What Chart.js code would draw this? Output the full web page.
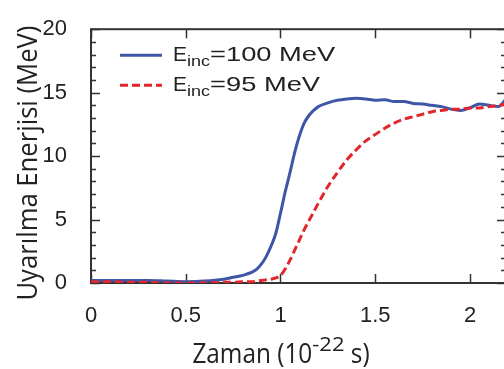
<!DOCTYPE html>
<html>
<head>
<meta charset="utf-8">
<script src="https://cdn.jsdelivr.net/npm/chart.js@4.4.1/dist/chart.umd.min.js"></script>
<style>
html, body { margin: 0; padding: 0; background: #fff; overflow: hidden; }
#wrap { width: 504px; height: 369px; overflow: hidden; }
canvas { display: block; }
</style>
</head>
<body>
<div id="wrap"><canvas id="chart" width="512" height="369"></canvas></div>
<script>
"use strict";

// time, in units of 1e-22 s
var zaman = [0, 0.1, 0.2, 0.3, 0.4, 0.5, 0.6, 0.7, 0.75, 0.8, 0.85, 0.875, 0.9, 0.925, 0.95, 0.975,
             1.0, 1.025, 1.05, 1.075, 1.1, 1.125, 1.15, 1.175, 1.2, 1.25, 1.3, 1.35, 1.4, 1.45,
             1.5, 1.55, 1.6, 1.65, 1.7, 1.75, 1.8, 1.85, 1.9, 1.95, 2.0, 2.05, 2.1, 2.15, 2.19];

// excitation energy (MeV) for the two beam energies
var e100 = [0.2, 0.2, 0.2, 0.2, 0.15, 0.1, 0.15, 0.3, 0.45, 0.6, 0.85, 1.1, 1.5, 2.1, 2.9, 3.9,
            5.5, 7.2, 8.7, 10.3, 11.6, 12.6, 13.2, 13.6, 13.9, 14.2, 14.4, 14.5, 14.55, 14.5,
            14.4, 14.45, 14.3, 14.3, 14.15, 14.1, 14.0, 13.9, 13.7, 13.6, 13.8, 14.1, 14.0, 13.9, 14.5];
var e95 = [0.1, 0.1, 0.05, 0.05, 0.0, 0.0, 0.0, 0.05, 0.05, 0.1, 0.1, 0.15, 0.2, 0.25, 0.3, 0.4,
           0.6, 1.1, 1.8, 2.6, 3.4, 4.2, 4.9, 5.6, 6.3, 7.6, 8.7, 9.7, 10.5, 11.2,
           11.7, 12.2, 12.6, 12.9, 13.1, 13.3, 13.5, 13.6, 13.7, 13.7, 13.8, 13.8, 13.9, 14.0, 14.1];

var beamEnergies = [100, 95];
var xTickValues = [0, 0.5, 1, 1.5, 2];
var yTickValues = [0, 5, 10, 15, 20];

var INK = "#222";
var TICK_FONT = { family: "'Liberation Sans', Arial, sans-serif", size: 22 };
var TITLE_FAMILY = "'Open Sans', sans-serif";
var LEGEND_FAMILY = "'Liberation Sans', Arial, sans-serif";

function toPoints(xs, ys) {
    return xs.map(function(x, i) { return { x: x, y: ys[i] }; });
}

function fixedTicks(values) {
    return function(scale) {
        scale.ticks = values.map(function(v) { return { value: v }; });
    };
}

function plainLabel(v) {
    return String(v);
}

// text in pieces (sub/superscripts), each with its own size, shift and horizontal stretch
function drawRich(ctx, parts, x, baseY, align) {
    var total = 0;
    parts.forEach(function(p) {
        ctx.font = p.font;
        p.w = ctx.measureText(p.text).width * (p.sx || 1);
        total += p.w;
    });
    if (align === "center")
        x -= total / 2;
    ctx.textAlign = "left";
    ctx.textBaseline = "alphabetic";
    parts.forEach(function(p) {
        ctx.save();
        ctx.font = p.font;
        ctx.translate(x, baseY + (p.dy || 0));
        ctx.scale(p.sx || 1, 1);
        ctx.fillText(p.text, 0, 0);
        ctx.restore();
        x += p.w;
    });
}

// box round the plot with inward ticks on all four sides
var framePlugin = {
    id: "frame",
    beforeDatasetsDraw: function(chart) {
        var ctx = chart.ctx, a = chart.chartArea;
        var xs = chart.scales.x, ys = chart.scales.y;
        ctx.save();
        ctx.strokeStyle = "#333";
        ctx.lineWidth = 1.5;
        for (var v = 0; v <= 20; v++) {
            var py = Math.round(ys.getPixelForValue(v)) + 0.5;
            var len = (v % 5 === 0) ? 9 : 5;
            ctx.beginPath();
            ctx.moveTo(a.left, py); ctx.lineTo(a.left + len, py);
            ctx.moveTo(a.right, py); ctx.lineTo(a.right - len, py);
            ctx.stroke();
        }
        xTickValues.forEach(function(t) {
            var px = Math.round(xs.getPixelForValue(t)) + 0.5;
            ctx.beginPath();
            ctx.moveTo(px, a.bottom); ctx.lineTo(px, a.bottom - 9);
            ctx.moveTo(px, a.top); ctx.lineTo(px, a.top + 9);
            ctx.stroke();
        });
        ctx.lineWidth = 2;
        ctx.strokeRect(a.left, a.top, a.right - a.left, a.bottom - a.top);
        ctx.restore();
    },
    afterDraw: function(chart) {
        var ctx = chart.ctx, a = chart.chartArea;
        ctx.save();
        ctx.fillStyle = INK;

        // x axis title
        drawRich(ctx, [
            { text: "Zaman (10", font: "28px " + TITLE_FAMILY, sx: 0.87 },
            { text: "-22", font: "20px " + TITLE_FAMILY, sx: 1.1, dy: -12 },
            { text: " s)", font: "28px " + TITLE_FAMILY, sx: 0.87 }
        ], 281, 363, "center");

        // y axis title
        ctx.save();
        ctx.translate(37, (a.top + a.bottom) / 2 + 7);
        ctx.rotate(-Math.PI / 2);
        drawRich(ctx, [
            { text: "Uyarılma Enerjisi (MeV)", font: "27px " + TITLE_FAMILY, sx: 0.95 }
        ], 0, 0, "center");
        ctx.restore();

        // legend, taken from the dataset styles
        chart.data.datasets.slice().sort(function(p, q) { return p.legendRow - q.legendRow; })
            .forEach(function(ds, i) {
                var rowY = a.top + 26 + i * 30;
                ctx.save();
                ctx.strokeStyle = ds.borderColor;
                ctx.lineWidth = ds.borderWidth;
                ctx.setLineDash(ds.borderDash || []);
                ctx.beginPath();
                ctx.moveTo(a.left + 29, rowY);
                ctx.lineTo(a.left + 71, rowY);
                ctx.stroke();
                ctx.restore();
                drawRich(ctx, [
                    { text: "E", font: "21px " + LEGEND_FAMILY },
                    { text: "inc", font: "15px " + LEGEND_FAMILY, sx: 1.2, dy: 5 },
                    { text: "=" + ds.energy + " MeV", font: "21px " + LEGEND_FAMILY, sx: 1.3 }
                ], a.left + 82, rowY + 6, "left");
            });
        ctx.restore();
    }
};

new Chart(document.getElementById("chart"), {
    type: "line",
    data: {
        datasets: [{
            data: toPoints(zaman, e95),
            energy: beamEnergies[1],
            legendRow: 1,
            order: 0,
            borderColor: "#e3262b",
            borderWidth: 3,
            borderDash: [8, 4],
            pointRadius: 0,
            cubicInterpolationMode: "monotone"
        }, {
            data: toPoints(zaman, e100),
            energy: beamEnergies[0],
            legendRow: 0,
            order: 1,
            borderColor: "#3d56a6",
            borderWidth: 3,
            pointRadius: 0,
            cubicInterpolationMode: "monotone"
        }]
    },
    options: {
        responsive: false,
        animation: false,
        devicePixelRatio: 1,
        layout: { padding: { top: 15, right: 6, left: 0, bottom: 0 } },
        plugins: {
            legend: { display: false },
            tooltip: { enabled: false }
        },
        scales: {
            x: {
                type: "linear",
                min: 0,
                max: 2.19,
                afterFit: function(scale) { scale.height = 86; },
                afterBuildTicks: fixedTicks(xTickValues),
                grid: { display: false },
                border: { display: false },
                ticks: { font: TICK_FONT, color: INK, padding: 12, maxRotation: 0, callback: plainLabel }
            },
            y: {
                min: 0,
                max: 20,
                afterFit: function(scale) { scale.width = 91; },
                afterBuildTicks: fixedTicks(yTickValues),
                grid: { display: false },
                border: { display: false },
                ticks: { font: TICK_FONT, color: INK, padding: 16, callback: plainLabel }
            }
        }
    },
    plugins: [framePlugin]
});
</script>
</body>
</html>
